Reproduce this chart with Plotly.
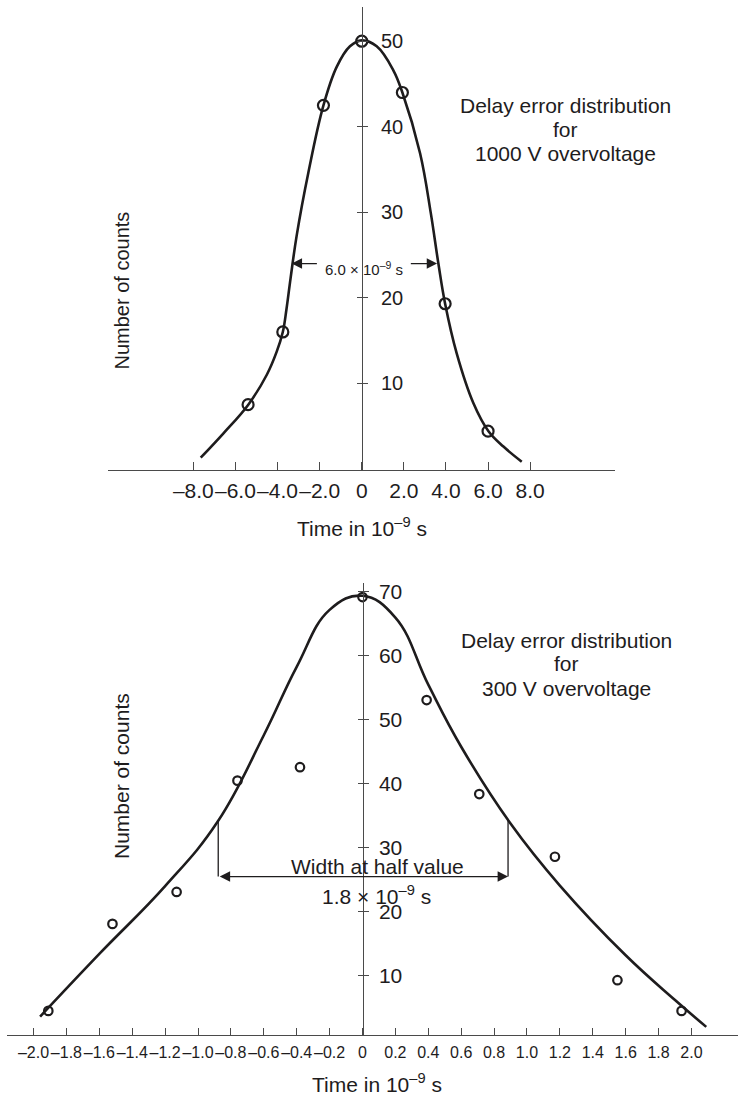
import plotly.graph_objects as go

W, H = 738, 1098
INK = "#1e1c1d"
AXIS = "#4a4a4a"
FONT = "Liberation Sans, Arial, Helvetica, sans-serif"

# ---- 1000 V overvoltage: measured counts and fitted curve ----
top_time = [-5.4, -3.75, -1.82, 0.0, 1.93, 3.96, 6.0]
top_counts = [7.5, 16.0, 42.5, 50.0, 44.0, 19.3, 4.4]
top_curve_time = [-7.65, -6.57, -5.39, -4.51, -4.04, -3.75, -3.58, -3.38, -3.09, -2.54,
                  -1.82, -1.19, -0.56, 0.0, 0.71, 1.50, 1.93, 2.77, 3.28, 3.64,
                  3.96, 4.51, 5.30, 6.02, 6.73, 7.60]
top_curve_counts = [1.3, 4.15, 7.5, 11.0, 13.7, 16.0, 18.6, 22.3, 27.3, 34.6,
                    42.5, 47.0, 49.4, 50.1, 49.4, 46.6, 44.0, 36.9, 29.9, 24.0,
                    19.3, 13.5, 7.7, 4.4, 2.6, 0.83]
top_xticks = [-8, -6, -4, -2, 0, 2, 4, 6, 8]
top_xtick_text = ["–8.0", "–6.0", "–4.0", "–2.0", "0", "2.0", "4.0", "6.0", "8.0"]
top_yticks = [10, 20, 30, 40, 50]
top_width_arrow = [-3.33, 3.58]      # ends of the width arrows
top_width_level = 24.0

# ---- 300 V overvoltage: measured counts and fitted curve ----
bot_time = [-1.91, -1.52, -1.13, -0.76, -0.38, 0.0, 0.39, 0.71, 1.17, 1.55, 1.94]
bot_counts = [4.5, 18.1, 23.1, 40.5, 42.6, 69.2, 53.1, 38.4, 28.6, 9.3, 4.5]
bot_curve_time = [-1.96, -1.6, -1.2, -0.88, -0.6, -0.4, -0.2, 0.0, 0.2, 0.4,
                  0.6, 0.9, 1.2, 1.6, 1.9, 2.09]
bot_curve_counts = [3.6, 13.4, 24.0, 34.1, 47.6, 58.3, 67.2, 69.4, 66.0, 55.5,
                    45.8, 33.8, 24.1, 13.2, 6.2, 2.0]
bot_xticks = [round(-2.0 + 0.2 * i, 1) for i in range(21)]
bot_xtick_text = [("–" if v < 0 else "") + (f"{abs(v):.1f}" if v != 0 else "0") for v in bot_xticks]
bot_yticks = [10, 20, 30, 40, 50, 60, 70]
bot_half_width = [-0.877, 0.885]      # width at half value bracket
bot_half_top = 34.3
bot_half_level = 25.5


def px(x):
    return x / W


def py(y):
    return 1 - y / H


fig = go.Figure()

fig.add_trace(go.Scatter(x=top_curve_time, y=top_curve_counts, mode="lines",
                         line=dict(color=INK, width=2.6, shape="spline", smoothing=1.1),
                         xaxis="x", yaxis="y", hoverinfo="skip"))
fig.add_trace(go.Scatter(x=top_time, y=top_counts, mode="markers",
                         marker=dict(symbol="circle-open", size=11, color=INK,
                                     line=dict(width=2.2, color=INK)),
                         xaxis="x", yaxis="y"))
fig.add_trace(go.Scatter(x=bot_curve_time, y=bot_curve_counts, mode="lines",
                         line=dict(color=INK, width=2.6, shape="spline", smoothing=1.2),
                         xaxis="x2", yaxis="y2", hoverinfo="skip"))
fig.add_trace(go.Scatter(x=bot_time, y=bot_counts, mode="markers",
                         marker=dict(symbol="circle-open", size=8.5, color=INK,
                                     line=dict(width=2.2, color=INK)),
                         xaxis="x2", yaxis="y2"))
# carriers for the left half of the crossing y ticks
fig.add_trace(go.Scatter(x=[None], y=[None], xaxis="x", yaxis="y3", showlegend=False))
fig.add_trace(go.Scatter(x=[None], y=[None], xaxis="x2", yaxis="y4", showlegend=False))

top_yrange = [-0.14, 54.0]
bot_yrange = [0.73, 71.4]

common_x = dict(showgrid=False, zeroline=False, showline=True, linecolor=AXIS, linewidth=1.4,
                ticks="inside", tickcolor=AXIS, tickwidth=1.3, automargin=False,
                tickmode="array", tickangle=0, fixedrange=True)
common_y = dict(showgrid=False, zeroline=False, showline=True, linecolor=AXIS, linewidth=1.4,
                ticks="outside", ticklen=5, tickcolor=AXIS, tickwidth=1.3, automargin=False,
                tickmode="array", side="right", anchor="free", fixedrange=True)

fig.update_layout(
    width=W, height=H, autosize=False,
    margin=dict(l=0, r=0, t=0, b=0),
    paper_bgcolor="white", plot_bgcolor="white",
    showlegend=False,
    font=dict(family=FONT, color=INK),
    xaxis=dict(common_x, domain=[px(108.3), px(615)], range=[-12.04, 12.03], anchor="y",
               tickvals=top_xticks, ticktext=top_xtick_text, ticklen=8,
               tickfont=dict(size=21, color=INK, family=FONT), ticklabelstandoff=2),
    yaxis=dict(common_y, domain=[py(470), py(7)], range=top_yrange, position=px(361.7),
               tickvals=top_yticks, tickfont=dict(size=20, color=INK, family=FONT),
               ticklabelstandoff=9),
    yaxis3=dict(overlaying="y", anchor="free", position=px(361.7), side="left",
                range=top_yrange, showgrid=False, zeroline=False, showline=False,
                ticks="outside", ticklen=5, tickcolor=AXIS, tickwidth=1.3,
                tickmode="array", tickvals=top_yticks, showticklabels=False,
                automargin=False, fixedrange=True),
    xaxis2=dict(common_x, domain=[px(6.7), 1.0], range=[-2.163, 2.283], anchor="y2",
                tickvals=bot_xticks, ticktext=bot_xtick_text, ticklen=7,
                tickfont=dict(size=16, color=INK, family=FONT), ticklabelstandoff=3),
    yaxis2=dict(common_y, domain=[py(1035), py(583)], range=bot_yrange, position=px(362.5),
                tickvals=bot_yticks, tickfont=dict(size=21, color=INK, family=FONT),
                ticklabelstandoff=6),
    yaxis4=dict(overlaying="y2", anchor="free", position=px(362.5), side="left",
                range=bot_yrange, showgrid=False, zeroline=False, showline=False,
                ticks="outside", ticklen=5, tickcolor=AXIS, tickwidth=1.3,
                tickmode="array", tickvals=bot_yticks, showticklabels=False,
                automargin=False, fixedrange=True),
)

ann = []


def label(text, x, y, size=21, angle=0):
    ann.append(dict(text=text, x=px(x), y=py(y), xref="paper", yref="paper",
                    showarrow=False, xanchor="center", yanchor="middle",
                    textangle=angle, font=dict(size=size, color=INK, family=FONT)))


# axis titles and captions
label("Time in 10<sup>–9</sup> s", 362, 526.7)
label("Number of counts", 121.5, 291, size=20, angle=-90)
label("Delay error distribution", 565, 105)
label("for", 565, 129)
label("1000 V overvoltage", 565, 153)

label("Time in 10<sup>–9</sup> s", 377, 1083)
label("Number of counts", 121, 776, angle=-90)
label("Delay error distribution", 566, 640)
label("for", 566, 663.5)
label("300 V overvoltage", 566, 688)

# width arrows on the 1000 V curve
for tip, tail in zip(top_width_arrow, [-2.06, 2.26]):
    ann.append(dict(x=tip, y=top_width_level, ax=tail, ay=top_width_level,
                    xref="x", yref="y", axref="x", ayref="y", text="",
                    showarrow=True, arrowhead=2, arrowsize=1.6, arrowwidth=1.3,
                    arrowcolor=INK))
ann.append(dict(text="6.0 × 10<sup>–9</sup> s", x=0.1, y=top_width_level - 0.6,
                xref="x", yref="y", showarrow=False, xanchor="center", yanchor="middle",
                font=dict(size=15, color=INK, family=FONT)))

# width at half value on the 300 V curve
ann.append(dict(x=bot_half_width[1], y=bot_half_level, ax=bot_half_width[0], ay=bot_half_level,
                xref="x2", yref="y2", axref="x2", ayref="y2", text="",
                showarrow=True, arrowhead=2, startarrowhead=2, arrowside="end+start",
                arrowsize=1.6, startarrowsize=1.6, arrowwidth=1.3, arrowcolor=INK))
ann.append(dict(text="Width at half value", x=0.094, y=27.0, xref="x2", yref="y2",
                showarrow=False, xanchor="center", yanchor="middle",
                font=dict(size=21, color=INK, family=FONT)))
ann.append(dict(text="1.8 × 10<sup>–9</sup> s", x=0.088, y=22.6, xref="x2", yref="y2",
                showarrow=False, xanchor="center", yanchor="middle",
                font=dict(size=21, color=INK, family=FONT)))

fig.update_layout(annotations=ann)

shapes = []
for t in bot_half_width:
    shapes.append(dict(type="line", xref="x2", yref="y2", x0=t, x1=t,
                       y0=bot_half_level, y1=bot_half_top,
                       line=dict(color=INK, width=1.3)))
fig.update_layout(shapes=shapes)

fig.write_html("out.html")
